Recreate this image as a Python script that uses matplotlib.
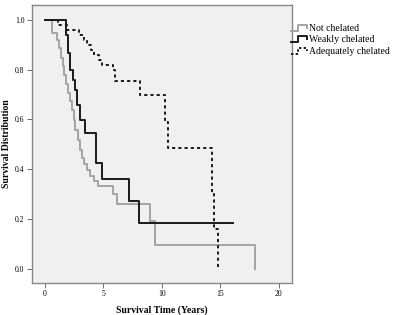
import matplotlib
matplotlib.use("Agg")
import matplotlib.pyplot as plt
from matplotlib.lines import Line2D
from matplotlib.legend_handler import HandlerBase

plt.rcParams["font.family"] = ["Liberation Serif", "DejaVu Serif"]

# Kaplan-Meier step data (event time in years, survival after step)
not_t = [0.0, 0.57, 1.03, 1.20, 1.37, 1.54, 1.67, 1.80, 1.97, 2.14, 2.31, 2.49, 2.61,
         2.83, 3.00, 3.17, 3.34, 3.60, 3.86, 4.20, 4.54, 5.80, 6.15, 9.00, 9.39, 18.0]
not_s = [1.0, 0.948, 0.920, 0.887, 0.847, 0.815, 0.779, 0.742, 0.706, 0.674, 0.638, 0.598,
         0.557, 0.517, 0.477, 0.445, 0.421, 0.396, 0.372, 0.352, 0.332, 0.300, 0.260,
         0.191, 0.095, 0.0]

weak_t = [0.0, 1.80, 1.95, 2.14, 2.43, 2.53, 2.72, 3.00, 3.43, 4.34, 4.91, 7.22, 8.08, 16.08]
weak_s = [1.0, 0.940, 0.867, 0.799, 0.759, 0.718, 0.658, 0.598, 0.545, 0.423, 0.362,
          0.272, 0.184, 0.184]

adeq_t = [0.0, 1.1, 1.9, 2.9, 3.3, 3.6, 3.9, 4.2, 4.6, 4.9, 5.8, 5.96, 8.14, 10.3, 10.5,
          14.29, 14.43, 14.77]
adeq_s = [1.0, 0.98, 0.96, 0.94, 0.92, 0.90, 0.88, 0.86, 0.84, 0.82, 0.80, 0.755, 0.696,
          0.59, 0.483, 0.304, 0.159, 0.0]

labels = ["Not chelated", "Weakly chelated", "Adequately chelated"]
x_ticks = [0, 5, 10, 15, 20]
y_ticks = [0.0, 0.2, 0.4, 0.6, 0.8, 1.0]


class StepHandler(HandlerBase):
    # little step-shaped legend key like the SPSS output
    def create_artists(self, legend, orig_handle, xdescent, ydescent, width, height,
                       fontsize, trans):
        x0, y0 = -xdescent, -ydescent
        xs = [x0, x0 + 0.45 * width, x0 + 0.45 * width, x0 + width, x0 + width]
        ys = [y0 + 0.05 * height, y0 + 0.05 * height, y0 + 0.9 * height,
              y0 + 0.9 * height, y0 + 0.45 * height]
        line = Line2D(xs, ys, color=orig_handle.get_color(),
                      linewidth=orig_handle.get_linewidth(),
                      linestyle=orig_handle.get_linestyle())
        if orig_handle.get_linestyle() != "-":
            line.set_dashes((1.2, 1.2))
        line.set_transform(trans)
        return [line]


fig = plt.figure(figsize=(3.95, 3.15), dpi=100)
ax = fig.add_axes([32 / 395, 1 - 282.7 / 315, 259.5 / 395, 277.7 / 315])
ax.set_facecolor("#f0f0f0")

(l1,) = ax.step(not_t, not_s, where="post", color="#a3a3a3", lw=1.4)
(l2,) = ax.step(weak_t, weak_s, where="post", color="#1a1a1a", lw=1.4)
(l3,) = ax.step(adeq_t, adeq_s, where="post", color="#1a1a1a", lw=1.4,
                linestyle=(0, (1.6, 1.6)))

ax.set_xlim(-1.11, 21.1)
ax.set_ylim(-0.057, 1.06)
ax.set_xticks(x_ticks)
ax.set_yticks(y_ticks)
ax.set_yticklabels([f"{v:.1f}" for v in y_ticks])
ax.tick_params(labelsize=5.5, length=3.5, width=0.6, color="#555555", pad=2)
for sp in ax.spines.values():
    sp.set_color("#888888")
    sp.set_linewidth(1.0)

ax.set_xlabel("Survival Time (Years)", fontsize=7, fontweight="bold", labelpad=5)
ax.set_ylabel("Survival Distribution", fontsize=7, fontweight="bold", labelpad=3)

fig.legend([l1, l2, l3], labels, loc="upper left",
           bbox_to_anchor=(291 / 395, 1 - 24 / 315), frameon=False, fontsize=7,
           handlelength=1.6, handletextpad=0.25, borderpad=0, borderaxespad=0,
           labelspacing=0.25, handler_map={Line2D: StepHandler()})

fig.savefig("out.png", dpi=100)
